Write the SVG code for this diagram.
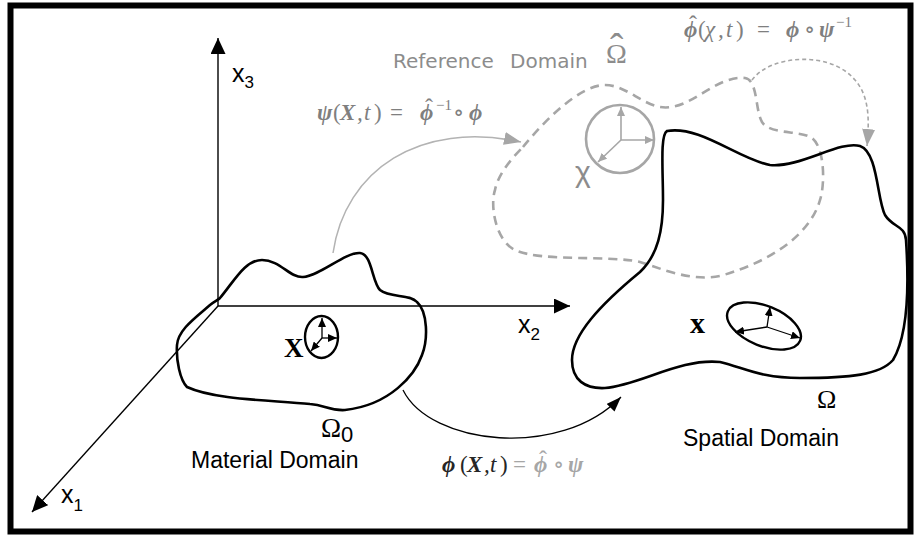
<svg xmlns="http://www.w3.org/2000/svg" width="915" height="535" viewBox="0 0 915 535">
<defs>
<style>
.blob{fill:none;stroke:#000;stroke-width:2.6;stroke-linejoin:round}
.dash{fill:none;stroke:#a6a6a6;stroke-width:2.6;stroke-dasharray:9 6}
.axis{fill:none;stroke:#000;stroke-width:1.4}
.ax{font-family:"Liberation Sans","Open Sans",sans-serif;font-size:25px;fill:#000}
.sub{font-size:17px}
.lbl{font-family:"Liberation Sans","Open Sans",sans-serif;font-size:23px;fill:#000}
.math{font-family:"Liberation Serif","DejaVu Serif",serif;font-size:23px;font-style:italic}
.up{font-style:normal}
.sup{font-style:normal;font-size:15px}
.hat{font-style:normal;font-weight:normal;font-size:24px}
.g1{fill:#7f7f7f}
.g2{fill:#a6a6a6}
.bi{font-weight:bold}
.serif{font-family:"Liberation Serif","DejaVu Serif",serif}
.inner{stroke:#000;stroke-width:1.3;fill:none}
.innerg{stroke:#a6a6a6;stroke-width:1.6;fill:none}
</style>
<marker id="axh" viewBox="0 0 16 15" refX="16" refY="7.5" markerWidth="16" markerHeight="15" markerUnits="userSpaceOnUse" orient="auto"><path d="M0,0 L16,7.5 L0,15 z" fill="#000"/></marker>
<marker id="sh" viewBox="0 0 9 8" refX="9" refY="4" markerWidth="9" markerHeight="8" markerUnits="userSpaceOnUse" orient="auto"><path d="M0,0 L9,4 L0,8 z" fill="#000"/></marker>
<marker id="shg" viewBox="0 0 9 8" refX="9" refY="4" markerWidth="9" markerHeight="8" markerUnits="userSpaceOnUse" orient="auto"><path d="M0,0 L9,4 L0,8 z" fill="#a6a6a6"/></marker>
<marker id="bhg" viewBox="0 0 17 13" refX="17" refY="6.5" markerWidth="17" markerHeight="13" markerUnits="userSpaceOnUse" orient="auto"><path d="M0,0 L17,6.5 L0,13 z" fill="#a6a6a6"/></marker>
<marker id="bhk" viewBox="0 0 15 11" refX="15" refY="5.5" markerWidth="15" markerHeight="11" markerUnits="userSpaceOnUse" orient="auto"><path d="M0,0 L15,5.5 L0,11 z" fill="#000"/></marker>
</defs>
<rect width="915" height="535" fill="#fff"/>
<rect id="frame" x="10.5" y="5.5" width="900" height="526" fill="none" stroke="#000" stroke-width="6"/>

<g id="axes">
<line class="axis" x1="218" y1="306" x2="218" y2="38" marker-end="url(#axh)"/>
<line class="axis" x1="218" y1="306" x2="570" y2="306" marker-end="url(#axh)"/>
<line class="axis" x1="218" y1="306" x2="32" y2="512" stroke="#333" marker-end="url(#axh)"/>
<text class="ax" x="232" y="82">x<tspan class="sub" dy="6">3</tspan></text>
<text class="ax" x="518" y="333">x<tspan class="sub" dy="7">2</tspan></text>
<text class="ax" x="61" y="503">x<tspan class="sub" dy="8">1</tspan></text>
</g>

<g id="reference-domain">
<path class="dash" d="M523,147 C545,120 580,85 605,85 C625,85 640,103 660,107 C690,112 715,75 745,78 C758,80 755,110 762,122 C770,135 800,130 812,138 C825,148 825,185 820,200 C810,235 770,262 720,276 C690,282 660,268 640,262 C610,255 540,262 515,250 C495,240 490,205 495,190 C498,175 510,160 523,147 Z"/>
<circle cx="620" cy="139" r="34" fill="none" stroke="#a6a6a6" stroke-width="2.6"/>
<line class="innerg" x1="621" y1="140" x2="621" y2="107" marker-end="url(#shg)"/>
<line class="innerg" x1="621" y1="140" x2="654" y2="140" marker-end="url(#shg)"/>
<line class="innerg" x1="621" y1="140" x2="598" y2="162" marker-end="url(#shg)"/>
<text x="575" y="182" font-family="Liberation Sans,Open Sans,sans-serif" font-size="30" fill="#8c8c8c">χ</text>
<text x="393" y="68" font-family="DejaVu Sans,Verdana,sans-serif" font-size="20" fill="#8c8c8c" word-spacing="10">Reference Domain</text>
<text x="606" y="63" class="serif" font-size="28" fill="#8c8c8c">Ω<tspan x="610" y="61" font-size="40">ˆ</tspan></text>
</g>

<g id="material-domain">
<path class="blob" d="M220,298 C235,280 245,260 262,260 C280,260 290,278 303,277 C320,276 345,252 360,253 C372,254 372,282 380,290 C390,298 410,294 417,302 C428,312 428,340 422,355 C415,375 390,405 345,410 C330,411 325,405 310,404 C270,400 215,400 187,387 C180,380 176,360 177,345 C178,330 195,318 210,305 C215,301 218,300 220,298 Z"/>
<ellipse cx="321.5" cy="337" rx="16.5" ry="21" fill="none" stroke="#000" stroke-width="2.4"/>
<line class="inner" x1="322" y1="338" x2="322" y2="318" marker-end="url(#sh)"/>
<line class="inner" x1="322" y1="338" x2="337" y2="338" marker-end="url(#sh)"/>
<line class="inner" x1="322" y1="338" x2="311" y2="351" marker-end="url(#sh)"/>
<text x="284" y="357" class="serif bi" font-size="27">X</text>
<text x="321" y="437" class="serif" font-size="27">Ω<tspan font-family="Liberation Sans,sans-serif" font-size="22" dy="5">0</tspan></text>
<text class="lbl" x="191" y="468">Material Domain</text>
</g>

<g id="spatial-domain">
<path class="blob" d="M667,131 C700,125 740,160 770,165 C800,168 840,140 860,146 C878,152 877,200 885,215 C893,228 905,225 906,240 C910,300 905,340 893,360 C880,375 850,378 800,378 C760,378 745,368 720,362 C680,358 640,385 605,388 C585,389 572,380 572,360 C572,335 600,305 640,272 C658,255 663,230 663,200 C663,170 660,135 667,131 Z"/>
<ellipse cx="764" cy="326" rx="39" ry="20" transform="rotate(22 764 326)" fill="none" stroke="#000" stroke-width="2.4"/>
<line class="inner" x1="767" y1="327" x2="770" y2="307" marker-end="url(#sh)"/>
<line class="inner" x1="767" y1="327" x2="735" y2="332" marker-end="url(#sh)"/>
<line class="inner" x1="767" y1="327" x2="800" y2="338" marker-end="url(#sh)"/>
<text x="690" y="333" class="serif bi" font-size="30">x</text>
<text x="817" y="408" class="serif" font-size="26">Ω</text>
<text class="lbl" x="683" y="446">Spatial Domain</text>
</g>

<g id="connectors">
<path d="M333,253 C345,170 420,120 521,142" fill="none" stroke="#b3b3b3" stroke-width="1.5" marker-end="url(#bhg)"/>
<path d="M752,80 C770,55 830,50 855,80 C868,95 870,115 867,146" fill="none" stroke="#a6a6a6" stroke-width="1.6" stroke-dasharray="4 3" marker-end="url(#bhg)"/>
<path d="M403,390 C430,445 560,460 621,397" fill="none" stroke="#000" stroke-width="1.3" marker-end="url(#bhk)"/>
</g>

<g id="labels">
<text class="math g1" y="120"><tspan x="317" class="bi">ψ</tspan><tspan x="333" class="up">(</tspan><tspan x="340" class="bi">X</tspan><tspan x="357">,</tspan><tspan x="364">t</tspan><tspan x="374" class="up">)</tspan><tspan x="390" class="up">=</tspan><tspan x="420" class="bi">ϕ</tspan><tspan x="425" y="115" class="hat">ˆ</tspan><tspan x="436" y="110" class="sup">−1</tspan><tspan x="453" y="120" class="up">∘</tspan><tspan x="469" class="bi">ϕ</tspan></text>

<text class="math g1" y="37"><tspan x="684" class="bi">ϕ</tspan><tspan x="689" y="32" class="hat">ˆ</tspan><tspan x="698" y="37" class="up">(</tspan><tspan x="705">χ</tspan><tspan x="718">,</tspan><tspan x="726">t</tspan><tspan x="736" class="up">)</tspan><tspan x="757" class="up">=</tspan><tspan x="786" class="bi">ϕ</tspan><tspan x="804" class="up">∘</tspan><tspan x="819" class="bi">ψ</tspan><tspan x="836" y="27" class="sup">−1</tspan></text>

<text class="math" y="472"><tspan x="442" class="bi" fill="#262626">ϕ</tspan><tspan x="460" class="up" fill="#262626">(</tspan><tspan x="467" class="bi" fill="#262626">X</tspan><tspan x="484" fill="#262626">,</tspan><tspan x="490" fill="#262626">t</tspan><tspan x="500" class="up" fill="#262626">)</tspan><tspan x="513" class="up g2">=</tspan><tspan x="534" class="bi g2">ϕ</tspan><tspan x="539" y="467" class="hat g2">ˆ</tspan><tspan x="553" y="472" class="up g2">∘</tspan><tspan x="568" class="bi g2">ψ</tspan></text>
</g>
</svg>
